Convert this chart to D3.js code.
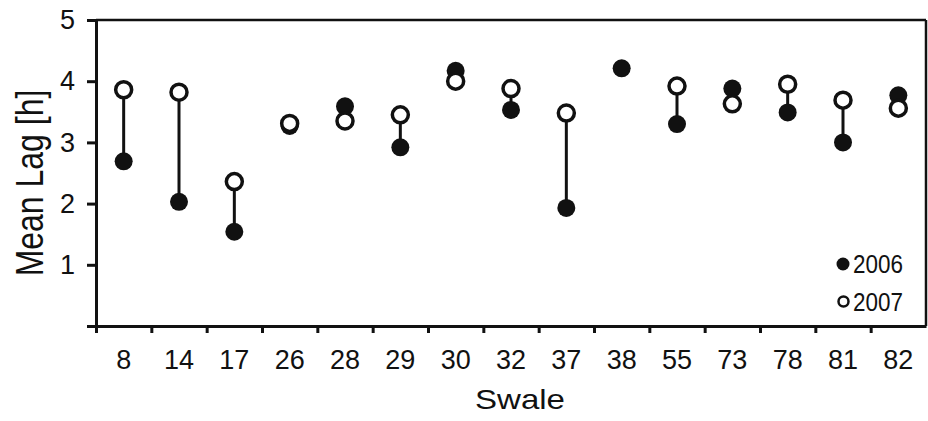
<!DOCTYPE html>
<html>
<head>
<meta charset="utf-8">
<script src="https://cdn.jsdelivr.net/npm/d3@7"></script>
<style>
  html, body { margin: 0; padding: 0; background: #ffffff; }
  svg { display: block; }
  text { font-family: "Liberation Sans", Arial, sans-serif; fill: #111; }
</style>
</head>
<body>
<svg id="chart" width="928" height="421"></svg>
<script>
// Mean lag per swale, two monitoring years
const swales = ["8", "14", "17", "26", "28", "29", "30", "32", "37", "38", "55", "73", "78", "81", "82"];
const lag2006 = [2.69, 2.03, 1.54, 3.27, 3.59, 2.92, 4.17, 3.53, 1.93, 4.21, 3.30, 3.88, 3.49, 3.00, 3.77];
const lag2007 = [3.86, 3.82, 2.36, 3.31, 3.35, 3.45, 4.00, 3.88, 3.48, null, 3.92, 3.63, 3.95, 3.69, 3.56];
const yTicks = [0, 1, 2, 3, 4, 5];
const years = ["2006", "2007"];

const svg = d3.select("#chart");
const plotLeft = 96, plotRight = 926, plotTop = 20, plotBottom = 326;

const x = d3.scaleBand().domain(swales).range([plotLeft, plotRight]).padding(0);
const xEdge = d3.scaleLinear().domain([0, swales.length]).range([plotLeft, plotRight]);
const y = d3.scaleLinear().domain([0, 5]).range([plotBottom, plotTop]);

const ink = "#111";

// frame: top and right edges
svg.append("line").attr("x1", plotLeft).attr("x2", plotRight).attr("y1", plotTop).attr("y2", plotTop)
  .attr("stroke", ink).attr("stroke-width", 2.5);
svg.append("line").attr("x1", plotRight).attr("x2", plotRight).attr("y1", plotTop).attr("y2", plotBottom)
  .attr("stroke", ink).attr("stroke-width", 2.5);

// y axis
const yAxis = svg.append("g").attr("transform", `translate(${plotLeft},0)`)
  .call(d3.axisLeft(y).tickValues(yTicks).tickSize(9).tickSizeOuter(0).tickPadding(12)
    .tickFormat(d => d === 0 ? "" : d));
yAxis.select(".domain").attr("stroke", ink).attr("stroke-width", 3);
yAxis.selectAll(".tick line").attr("stroke", ink).attr("stroke-width", 3);
yAxis.selectAll(".tick text").attr("font-size", 27).attr("fill", ink)
  .attr("font-family", "Liberation Sans, Arial, sans-serif");

// x axis: ticks at category boundaries
const xTickAxis = svg.append("g").attr("transform", `translate(0,${plotBottom})`)
  .call(d3.axisBottom(xEdge).tickValues(d3.range(0, swales.length)).tickSize(7)
    .tickSizeOuter(0).tickFormat(""));
xTickAxis.select(".domain").attr("stroke", ink).attr("stroke-width", 3);
xTickAxis.selectAll(".tick line").attr("stroke", ink).attr("stroke-width", 3);

// x axis: category labels
const xLabelAxis = svg.append("g").attr("transform", `translate(0,${plotBottom})`)
  .call(d3.axisBottom(x).tickSize(0));
xLabelAxis.select(".domain").remove();
xLabelAxis.selectAll(".tick text").attr("font-size", 27).attr("fill", ink)
  .attr("font-family", "Liberation Sans, Arial, sans-serif")
  .attr("dy", 0).attr("y", 43);

// axis titles
svg.append("text").attr("x", 520).attr("y", 409).attr("text-anchor", "middle")
  .attr("font-size", 28).attr("textLength", 90).attr("lengthAdjust", "spacingAndGlyphs")
  .text("Swale");
svg.append("text").attr("text-anchor", "middle").attr("font-size", 32)
  .attr("transform", "translate(43,183) scale(1.2,1) rotate(-90)")
  .text("Mean Lag [h]");

// connecting segments
const rows = swales.map((s, i) => ({ s, a: lag2006[i], b: lag2007[i] }));
const cx = d => x(d.s) + x.bandwidth() / 2;

svg.append("g").selectAll("line")
  .data(rows.filter(d => d.a != null && d.b != null))
  .join("line")
  .attr("x1", cx).attr("x2", cx)
  .attr("y1", d => y(d.a)).attr("y2", d => y(d.b))
  .attr("stroke", ink).attr("stroke-width", 3);

// 2006: filled circles
svg.append("g").selectAll("circle")
  .data(rows.filter(d => d.a != null))
  .join("circle")
  .attr("cx", cx).attr("cy", d => y(d.a)).attr("r", 9)
  .attr("fill", ink);

// 2007: open circles
svg.append("g").selectAll("circle")
  .data(rows.filter(d => d.b != null))
  .join("circle")
  .attr("cx", cx).attr("cy", d => y(d.b)).attr("r", 8)
  .attr("fill", "#fff").attr("stroke", ink).attr("stroke-width", 3.5);

// legend
const legend = svg.append("g");
const legendY = [264, 301.5];
years.forEach((yr, i) => {
  if (i === 0) {
    legend.append("circle").attr("cx", 843).attr("cy", legendY[i]).attr("r", 6.5).attr("fill", ink);
  } else {
    legend.append("circle").attr("cx", 843.5).attr("cy", legendY[i]).attr("r", 5)
      .attr("fill", "#fff").attr("stroke", ink).attr("stroke-width", 2.5);
  }
  legend.append("text").attr("x", 853).attr("y", legendY[i] + 9)
    .attr("font-size", 25).attr("textLength", 50).attr("lengthAdjust", "spacingAndGlyphs")
    .text(yr);
});
</script>
</body>
</html>
